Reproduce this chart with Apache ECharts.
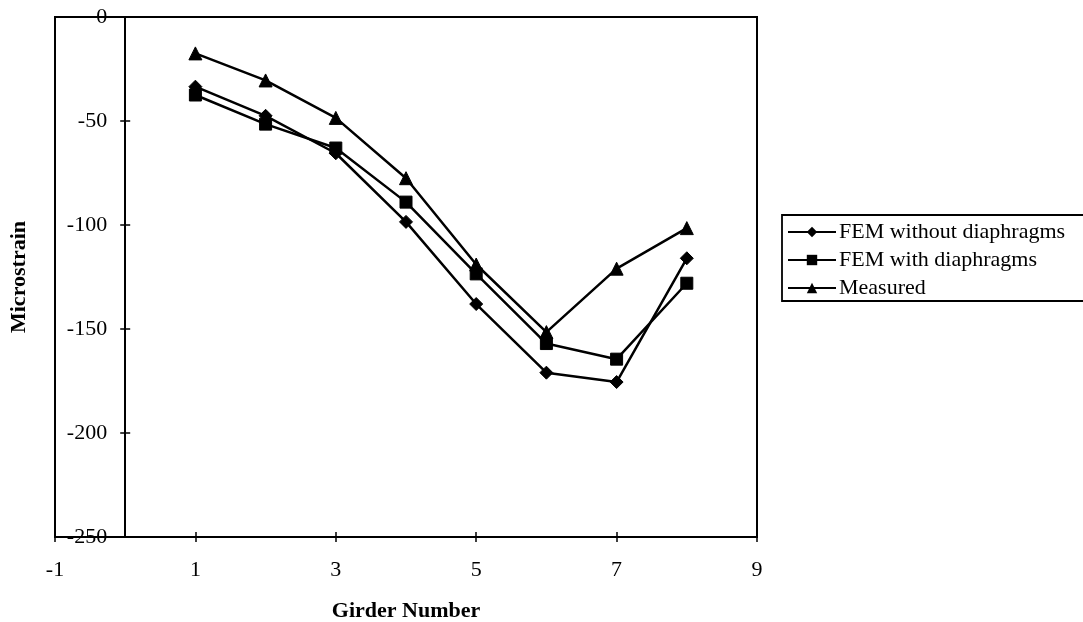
<!DOCTYPE html>
<html>
<head>
<meta charset="utf-8">
<script src="https://cdn.jsdelivr.net/npm/echarts@6/dist/echarts.min.js"></script>
<style>
html,body{margin:0;padding:0;background:#fff;}
#c{width:1083px;height:622px;}
</style>
</head>
<body>
<div id="c"></div>
<script>
const girders = [1, 2, 3, 4, 5, 6, 7, 8];
const femWithout = [-33.5, -47.5, -65.5, -98.5, -138, -171, -175.5, -116];
const femWith = [-37.5, -51.5, -63, -89, -123.5, -157, -164.5, -128];
const measured = [-17.5, -30.5, -48.5, -77.5, -119, -151.5, -121, -101.5];
const seriesNames = ['FEM without diaphragms', 'FEM with diaphragms', 'Measured'];
const xAxisTitle = 'Girder Number';
const yAxisTitle = 'Microstrain';

const FONT = '"Liberation Serif", "Times New Roman", serif';
const pairs = (ys) => girders.map((g, i) => [g, ys[i]]);

const chart = echarts.init(document.getElementById('c'), null, {renderer: 'canvas'});

function mkSeries(name, ys, symbol, size) {
  return {
    name: name, type: 'line', data: pairs(ys),
    xAxisIndex: 0, yAxisIndex: 0,
    symbol: symbol, symbolSize: size, showSymbol: true,
    itemStyle: {color: '#000', borderColor: '#000'},
    lineStyle: {color: '#000', width: 2.5},
    emphasis: {disabled: true},
    animation: false
  };
}

// y axis drawn at x = 0 : offset equals one x-unit of the grid width (702px / 10 units)
const yAxisShift = -70.2;

chart.setOption({
  backgroundColor: '#fff',
  animation: false,
  grid: {
    left: 55, right: 326, top: 17, bottom: 85,
    containLabel: false, outerBoundsMode: 'none',
    show: true, borderColor: '#000', borderWidth: 2, backgroundColor: 'transparent'
  },
  xAxis: [{
    type: 'value', min: -1, max: 9, interval: 2,
    position: 'bottom',
    name: xAxisTitle, nameLocation: 'middle', nameGap: 63,
    nameTextStyle: {fontFamily: FONT, fontSize: 22, fontWeight: 'bold', color: '#000'},
    axisLine: {show: true, onZero: false, lineStyle: {color: '#000', width: 2}},
    axisTick: {show: true, inside: false, length: 5, lineStyle: {color: '#000', width: 1.5}},
    axisLabel: {fontFamily: FONT, fontSize: 22, color: '#000', margin: 22},
    splitLine: {show: false}
  }, {
    type: 'value', min: -1, max: 9, interval: 2,
    position: 'bottom',
    axisLine: {show: false, onZero: false},
    axisTick: {show: true, inside: true, length: 5, lineStyle: {color: '#000', width: 1.5}},
    axisLabel: {show: false},
    splitLine: {show: false}
  }],
  yAxis: [{
    type: 'value', min: -250, max: 0, interval: 50,
    position: 'left', offset: yAxisShift,
    name: yAxisTitle, nameLocation: 'middle', nameGap: 95, nameRotate: 90,
    nameTextStyle: {fontFamily: FONT, fontSize: 22, fontWeight: 'bold', color: '#000'},
    axisLine: {show: true, onZero: false, lineStyle: {color: '#000', width: 2}},
    axisTick: {show: true, inside: false, length: 5, lineStyle: {color: '#000', width: 1.5}},
    axisLabel: {fontFamily: FONT, fontSize: 22, color: '#000', margin: 18},
    splitLine: {show: false}
  }, {
    type: 'value', min: -250, max: 0, interval: 50,
    position: 'left', offset: yAxisShift,
    axisLine: {show: false, onZero: false},
    axisTick: {show: true, inside: true, length: 5, lineStyle: {color: '#000', width: 1.5}},
    axisLabel: {show: false},
    splitLine: {show: false}
  }],
  legend: {
    orient: 'vertical',
    left: 787, top: 221,
    itemWidth: 48, itemHeight: 13, itemGap: 6,
    padding: 0,
    textStyle: {fontFamily: FONT, fontSize: 22, color: '#000', padding: [0, 0, 0, -2]},
    data: seriesNames
  },
  graphic: [{
    type: 'rect', silent: true,
    shape: {x: 782, y: 215, width: 320, height: 86},
    style: {fill: 'none', stroke: '#000', lineWidth: 1.8}
  }],
  series: [
    mkSeries(seriesNames[0], femWithout, 'diamond', 13),
    mkSeries(seriesNames[1], femWith, 'rect', 12),
    mkSeries(seriesNames[2], measured, 'triangle', 13)
  ]
});
</script>
</body>
</html>
